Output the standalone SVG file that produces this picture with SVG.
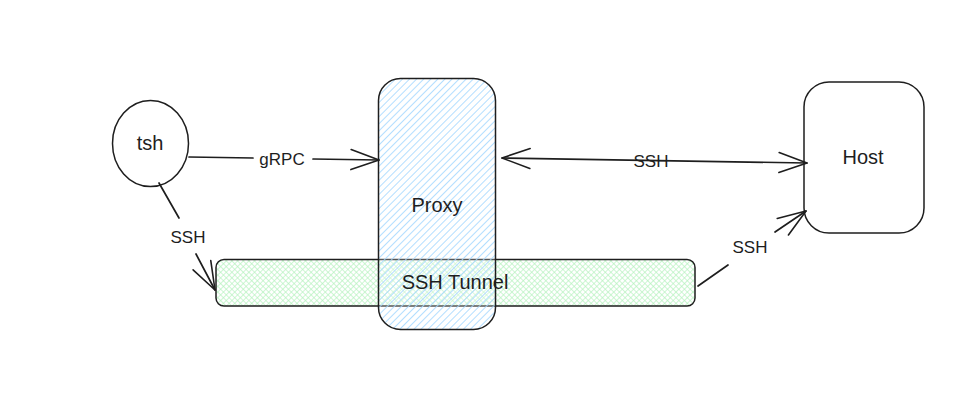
<svg xmlns="http://www.w3.org/2000/svg" width="972" height="410" viewBox="0 0 972 410">
<defs>
<pattern id="blueHatch" patternUnits="userSpaceOnUse" width="5" height="5" patternTransform="rotate(45)">
<line x1="0" y1="0" x2="0" y2="5" stroke="#a5d8ff" stroke-width="1.7"/>
</pattern>
<pattern id="greenCross" patternUnits="userSpaceOnUse" width="4" height="4" patternTransform="rotate(45)">
<line x1="0" y1="0" x2="0" y2="4" stroke="#b2f2bb" stroke-width="1.3"/>
<line x1="0" y1="0" x2="4" y2="0" stroke="#b2f2bb" stroke-width="1.3"/>
</pattern>
<marker id="arrow" markerUnits="userSpaceOnUse" viewBox="-32 -14 36 28" refX="0" refY="0" markerWidth="36" markerHeight="28" orient="auto-start-reverse">
<path d="M-28,-10 L0,0 L-28,10" fill="none" stroke="#1e1e1e" stroke-width="1.6" stroke-linecap="round" stroke-linejoin="round"/>
</marker>
</defs>
<style>
.shape{stroke:#1e1e1e;stroke-width:1.5;}
.edge{stroke:#1e1e1e;stroke-width:1.7;fill:none;stroke-linecap:round;}
.label{font-family:"Liberation Sans",Arial,sans-serif;fill:#1e1e1e;text-anchor:middle;dominant-baseline:central;}
.node{font-size:20px;}
.elabel{font-size:17px;}
</style>
<rect width="972" height="410" fill="#ffffff"/>

<g id="tunnel">
<rect class="shape" x="216" y="259.5" width="479" height="46.5" rx="8" fill="url(#greenCross)"/>
</g>

<g id="proxy">
<rect x="378.5" y="78.5" width="117" height="251" rx="22" fill="#ffffff" fill-opacity="0.25"/>
<rect class="shape" x="378.5" y="78.5" width="117" height="251" rx="22" fill="url(#blueHatch)"/>
<text class="label node" x="437" y="205">Proxy</text>
</g>

<g id="tunnel-label">
<text class="label node" x="455" y="282">SSH Tunnel</text>
</g>

<g id="tsh">
<ellipse class="shape" cx="150.5" cy="143.5" rx="38" ry="43" fill="none"/>
<text class="label node" x="150" y="143">tsh</text>
</g>

<g id="host">
<rect class="shape" x="804" y="82" width="120" height="151" rx="25" fill="none"/>
<text class="label node" x="863" y="157">Host</text>
</g>

<g id="connectors">
<line class="edge" x1="189" y1="157" x2="253" y2="158"/>
<line class="edge" x1="313" y1="159" x2="379" y2="160" marker-end="url(#arrow)"/>
<text class="label elabel" x="282" y="159">gRPC</text>

<line class="edge" x1="502" y1="158" x2="807" y2="163" marker-start="url(#arrow)" marker-end="url(#arrow)"/>
<text class="label elabel" x="651" y="161">SSH</text>

<line class="edge" x1="159" y1="183" x2="179" y2="218"/>
<line class="edge" x1="196" y1="254" x2="215" y2="290" marker-end="url(#arrow)"/>
<text class="label elabel" x="188" y="237">SSH</text>

<line class="edge" x1="698" y1="286" x2="728" y2="265"/>
<line class="edge" x1="775" y1="232" x2="806" y2="211" marker-end="url(#arrow)"/>
<text class="label elabel" x="750" y="247">SSH</text>
</g>
</svg>
